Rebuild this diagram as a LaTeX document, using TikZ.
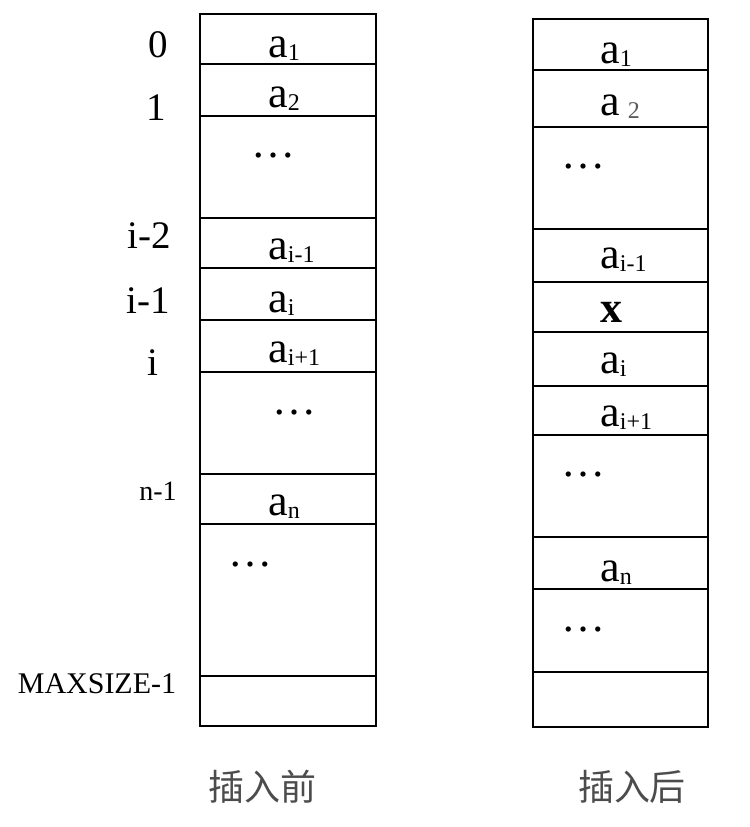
\documentclass[tikz,border=0pt]{standalone}
\usepackage{fontspec}
\setmainfont{Liberation Serif}
\newfontfamily\cjk{Noto Sans CJK SC}
\newcommand{\idx}[1]{\raisebox{-1.5pt}{\fontsize{12}{12}\selectfont #1}}

\begin{document}
\begin{tikzpicture}[x=0.5pt,y=-0.5pt]
                \useasboundingbox (0,0) rectangle (750,827);
                \begin{scope}[line width=1.1pt]
                    % before
                    \draw (200,14) rectangle (376,726);
                    \draw (200,64) -- (376,64);
                    \draw (200,116) -- (376,116);
                    \draw (200,218) -- (376,218);
                    \draw (200,268) -- (376,268);
                    \draw (200,320) -- (376,320);
                    \draw (200,372) -- (376,372);
                    \draw (200,474) -- (376,474);
                    \draw (200,524) -- (376,524);
                    \draw (200,676) -- (376,676);
                    % after
                    \draw (533,19) rectangle (708,727);
                    \draw (533,70) -- (708,70);
                    \draw (533,127) -- (708,127);
                    \draw (533,229) -- (708,229);
                    \draw (533,282) -- (708,282);
                    \draw (533,332) -- (708,332);
                    \draw (533,386) -- (708,386);
                    \draw (533,435) -- (708,435);
                    \draw (533,537) -- (708,537);
                    \draw (533,589) -- (708,589);
                    \draw (533,672) -- (708,672);
                \end{scope}
                \begin{scope}[every node/.style={anchor=base west,inner sep=0pt,font=\fontsize{22}{22}\selectfont}]
                    \node (A1) at (268,57) {a\idx{1}};
                    \node (A2) at (268,107) {a\idx{2}};
                    \node (D1) at (251,157) {\ldots};
                    \node (A3) at (268,259) {a\idx{i-1}};
                    \node (A4) at (268,312) {a\idx{i}};
                    \node (A5) at (268,362) {a\idx{i+1}};
                    \node (D2) at (272,414) {\ldots};
                    \node (A6) at (268,515) {a\idx{n}};
                    \node (D3) at (228,566) {\ldots};
                    \node (B1) at (600,63) {a\idx{1}};
                    \node (B2) at (600,115) {a\hspace{4pt}\color{black!65}\idx{2}};
                    \node (E1) at (561,168) {\ldots};
                    \node (B3) at (600,268) {a\idx{i-1}};
                    \node (X) at (600,322) {\textbf{x}};
                    \node (B4) at (600,373) {a\idx{i}};
                    \node (B5) at (600,426) {a\idx{i+1}};
                    \node (E2) at (561,476) {\ldots};
                    \node (B6) at (600,581) {a\idx{n}};
                    \node (E3) at (561,631) {\ldots};
                \end{scope}
                \begin{scope}[every node/.style={anchor=base,inner sep=0pt,font=\fontsize{19.5}{19.5}\selectfont}]
                    \node (I0) at (158,57) {0};
                    \node (I1) at (156,120) {1};
                    \node (I2) at (149,248) {i-2};
                    \node (I3) at (148,313) {i-1};
                    \node (I4) at (153,375) {i};
                    \node (I5) [font=\fontsize{14}{14}\selectfont] at (158,500) {n-1};
                    \node (I6) [font=\fontsize{15}{15}\selectfont] at (97,693) {MAXSIZE-1};
                \end{scope}
                \node (T1) [font=\cjk\fontsize{18}{18}\selectfont, text=black!70] at (262,787) {插入前};
                \node (T2) [font=\cjk\fontsize{18}{18}\selectfont, text=black!70] at (632,787) {插入后};
            \end{tikzpicture}
\end{document}
